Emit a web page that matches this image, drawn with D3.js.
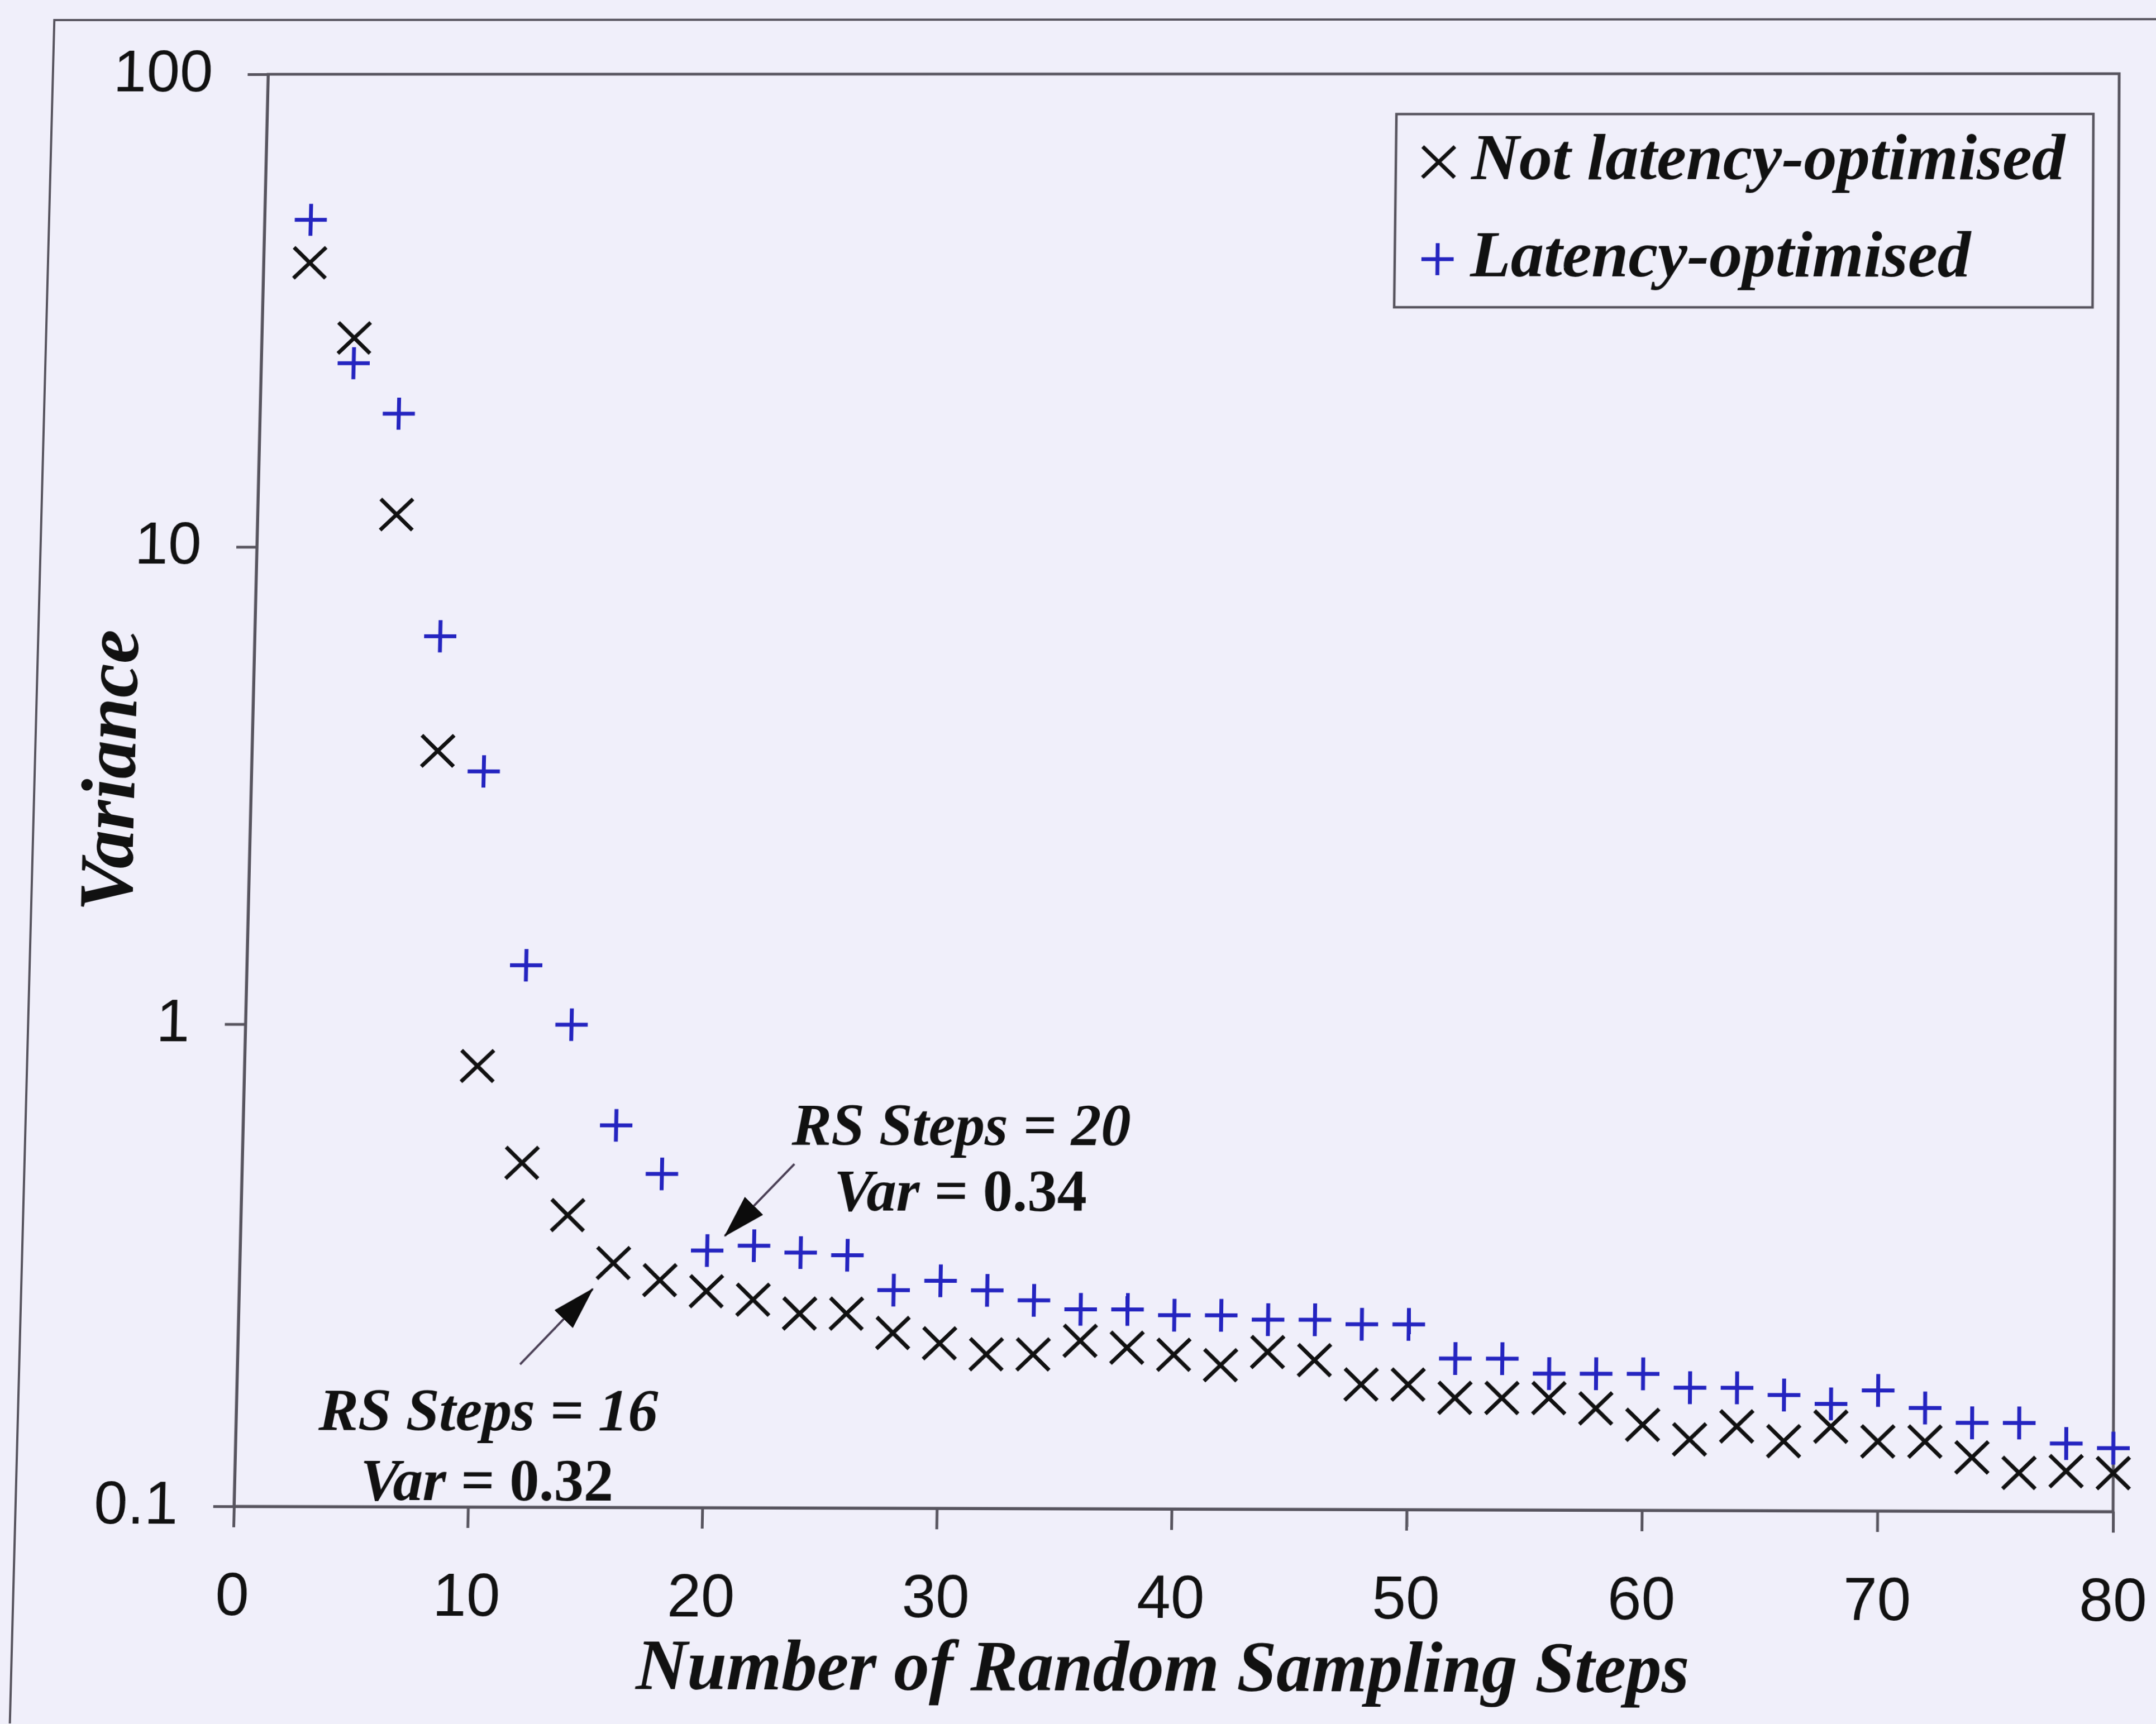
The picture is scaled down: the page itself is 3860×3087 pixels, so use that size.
<!DOCTYPE html>
<html>
<head>
<meta charset="utf-8">
<script src="https://cdn.jsdelivr.net/npm/d3@7"></script>
<style>
  html, body { margin: 0; padding: 0; background: #f0effa; overflow: hidden; }
  svg { position: absolute; left: 0; top: 0; transform-origin: 0 0; }
</style>
</head>
<body>
<script>
// ---- data -------------------------------------------------------------
const steps = [2, 4, 6, 8, 10, 12, 14, 16, 18, 20, 22, 24, 26, 28, 30, 32, 34, 36, 38, 40,
               42, 44, 46, 48, 50, 52, 54, 56, 58, 60, 62, 64, 66, 68, 70, 72, 74, 76, 78, 80];

const notOptimised = [39.8, 27.6, 11.7, 3.73, 0.82, 0.516, 0.402, 0.32, 0.295, 0.28,
                      0.269, 0.252, 0.252, 0.23, 0.219, 0.208, 0.208, 0.222, 0.215, 0.208,
                      0.198, 0.211, 0.203, 0.181, 0.181, 0.17, 0.17, 0.17, 0.162, 0.15,
                      0.14, 0.149, 0.139, 0.149, 0.139, 0.139, 0.129, 0.12, 0.121, 0.12];

const optimised = [49.1, 24.4, 19.1, 6.49, 3.38, 1.33, 1.0, 0.618, 0.49, 0.34,
                   0.348, 0.337, 0.333, 0.282, 0.295, 0.282, 0.269, 0.258, 0.258, 0.251,
                   0.251, 0.246, 0.246, 0.241, 0.241, 0.205, 0.205, 0.191, 0.191, 0.191,
                   0.179, 0.179, 0.173, 0.166, 0.177, 0.163, 0.152, 0.152, 0.138, 0.135];

const seriesNames = ["Not latency-optimised", "Latency-optimised"];
const xTicks = [0, 10, 20, 30, 40, 50, 60, 70, 80];
const yTicks = [0.1, 1, 10, 100];
const xTitle = "Number of Random Sampling Steps";
const yTitle = "Variance";

// callouts: series index, step, stated variance
const callouts = [
  { series: 0, step: 16, value: 0.32, line1: "RS Steps = 16", line2: ["Var", " = 0.32"] },
  { series: 1, step: 20, value: 0.34, line1: "RS Steps = 20", line2: ["Var", " = 0.34"] }
];

// ---- layout -----------------------------------------------------------
const W = 3860, H = 3087;
const L = 450, R = 3790, T = 133, B = 2703;
const AXIS = "#57545e";
const BLUE = "#2424c0";
const INK = "#111111";
const SERIF = "'Liberation Serif', 'Times New Roman', serif";
const SANS = "'Liberation Sans', Arial, sans-serif";

const svg = d3.select("body").append("svg")
  .attr("width", W).attr("height", H)
  .attr("viewBox", `0 0 ${W} ${H}`);

svg.append("rect")
  .attr("x", -300).attr("y", -300).attr("width", W + 600).attr("height", H + 600)
  .attr("fill", "#f0effa");

// outer frame of the figure
svg.append("rect")
  .attr("x", 60).attr("y", 34).attr("width", 4200).attr("height", 3300)
  .attr("fill", "none").attr("stroke", AXIS).attr("stroke-width", 4);

const x = d3.scaleLinear().domain([0, 80]).range([L, R]);
const y = d3.scaleLog().domain([0.1, 100]).range([B, T]);

// plot area border
svg.append("rect")
  .attr("x", L).attr("y", T).attr("width", R - L).attr("height", B - T)
  .attr("fill", "none").attr("stroke", AXIS).attr("stroke-width", 5);

// axes
const yAxis = svg.append("g")
  .attr("transform", `translate(${L},0)`)
  .call(d3.axisLeft(y).tickValues(yTicks).tickFormat(d3.format("~g"))
    .tickSize(37).tickSizeOuter(0).tickPadding(63));
yAxis.select(".domain").attr("stroke", AXIS).attr("stroke-width", 5);
yAxis.selectAll(".tick line").attr("stroke", AXIS).attr("stroke-width", 5);
yAxis.selectAll(".tick text")
  .attr("font-family", SANS).attr("font-size", 108).attr("fill", "#111")
  .attr("dy", "0.28em");

const xAxis = svg.append("g")
  .attr("transform", `translate(0,${B})`)
  .call(d3.axisBottom(x).tickValues(xTicks).tickSize(37).tickSizeOuter(0));
xAxis.select(".domain").attr("stroke", AXIS).attr("stroke-width", 5);
xAxis.selectAll(".tick line").attr("stroke", AXIS).attr("stroke-width", 5);
xAxis.selectAll(".tick text")
  .attr("font-family", SANS).attr("font-size", 108).attr("fill", "#111")
  .attr("y", 192).attr("dy", null);

// axis titles
svg.append("text")
  .attr("x", (L + R) / 2 - 13).attr("y", B + 320)
  .attr("text-anchor", "middle")
  .attr("font-family", SERIF).attr("font-weight", "bold").attr("font-style", "italic")
  .attr("font-size", 126).attr("fill", "#111")
  .text(xTitle);

svg.append("text")
  .attr("transform", `translate(240,1392) rotate(-90)`)
  .attr("text-anchor", "middle")
  .attr("font-family", SERIF).attr("font-weight", "bold").attr("font-style", "italic")
  .attr("font-size", 138).attr("fill", "#111")
  .text(yTitle);

// marker shapes
const timesPath = (sx, sy) => `M${-sx},${-sy}L${sx},${sy}M${-sx},${sy}L${sx},${-sy}`;
const plusPath = (s) => `M${-s},0H${s}M0,${-s}V${s}`;
const markers = [
  { d: timesPath(29, 28), color: INK },
  { d: plusPath(29), color: BLUE }
];

const seriesData = [notOptimised, optimised];

// draw the latency-optimised series first, then the other on top
[1, 0].forEach(si => {
  svg.append("g")
    .selectAll("path")
    .data(steps.map((s, i) => ({ s, v: seriesData[si][i] })))
    .join("path")
    .attr("transform", d => `translate(${x(d.s)},${y(d.v)})`)
    .attr("d", markers[si].d)
    .attr("fill", "none")
    .attr("stroke", markers[si].color)
    .attr("stroke-width", 7)
    .attr("stroke-linecap", "butt");
});

// legend
const legend = svg.append("g");
legend.append("rect")
  .attr("x", 2490).attr("y", 206).attr("width", 1254).attr("height", 350)
  .attr("fill", "none").attr("stroke", AXIS).attr("stroke-width", 4.5);
seriesNames.forEach((name, i) => {
  const cy = 293 + i * 176;
  legend.append("path")
    .attr("transform", `translate(2567,${cy})`)
    .attr("d", markers[i].d)
    .attr("fill", "none").attr("stroke", markers[i].color).attr("stroke-width", 7);
  legend.append("text")
    .attr("x", 2626).attr("y", cy + 31)
    .attr("font-family", SERIF).attr("font-weight", "bold").attr("font-style", "italic")
    .attr("font-size", 119).attr("fill", "#111")
    .text(name);
});

// callouts with arrows
const defs = svg.append("defs");
defs.append("marker")
  .attr("id", "head")
  .attr("markerUnits", "userSpaceOnUse")
  .attr("markerWidth", 76).attr("markerHeight", 46)
  .attr("refX", 74).attr("refY", 23)
  .attr("orient", "auto")
  .append("path")
  .attr("d", "M0,0L76,23L0,46Z")
  .attr("fill", "#0c0c0c");

const calloutLayout = [
  // text centre offset, line baselines offset, arrow tail and tip offsets from the point
  { tx: -218, ty1: 297, ty2: 421, ax0: -163, ay0: 180, ax1: -36, ay1: 46 },
  { tx: 450, ty1: -189, ty2: -72, ax0: 153, ay0: -154, ax1: 31, ay1: -26 }
];

callouts.forEach((c, i) => {
  const px = x(c.step), py = y(c.value);
  const lay = calloutLayout[i];
  svg.append("line")
    .attr("x1", px + lay.ax0).attr("y1", py + lay.ay0)
    .attr("x2", px + lay.ax1).attr("y2", py + lay.ay1)
    .attr("stroke", "#4a3f55").attr("stroke-width", 4)
    .attr("marker-end", "url(#head)");
  svg.append("text")
    .attr("x", px + lay.tx).attr("y", py + lay.ty1)
    .attr("text-anchor", "middle")
    .attr("font-family", SERIF).attr("font-weight", "bold").attr("font-style", "italic")
    .attr("font-size", 106).attr("fill", "#111")
    .text(c.line1);
  const t2 = svg.append("text")
    .attr("x", px + lay.tx).attr("y", py + lay.ty2)
    .attr("text-anchor", "middle")
    .attr("font-family", SERIF).attr("font-weight", "bold")
    .attr("font-size", 106).attr("fill", "#111");
  t2.append("tspan").attr("font-style", "italic").text(c.line2[0]);
  t2.append("tspan").text(c.line2[1]);
});

// ---- sheet warp --------------------------------------------------------
// The flat drawing is mapped onto a slightly skewed quadrilateral
// (projective transform from the four plot-area corners).
function solve(A, b) {
  const n = b.length;
  const M = A.map((r, i) => [...r, b[i]]);
  for (let c = 0; c < n; c++) {
    let p = c;
    for (let r = c + 1; r < n; r++) if (Math.abs(M[r][c]) > Math.abs(M[p][c])) p = r;
    [M[c], M[p]] = [M[p], M[c]];
    for (let r = 0; r < n; r++) {
      if (r === c) continue;
      const f = M[r][c] / M[c][c];
      for (let k = c; k <= n; k++) M[r][k] -= f * M[c][k];
    }
  }
  return M.map((r, i) => r[n] / r[i]);
}
function homography(src, dst) {
  const A = [], b = [];
  for (let i = 0; i < 4; i++) {
    const [sx, sy] = src[i], [u, v] = dst[i];
    A.push([sx, sy, 1, 0, 0, 0, -u * sx, -u * sy]); b.push(u);
    A.push([0, 0, 0, sx, sy, 1, -v * sx, -v * sy]); b.push(v);
  }
  return solve(A, b);
}
const hm = homography(
  [[L, T], [R, T], [R, B], [L, B]],
  [[480, 133], [3795, 132], [3785, 2708], [419, 2698]]
);
svg.style("transform",
  `matrix3d(${hm[0]},${hm[3]},0,${hm[6]},${hm[1]},${hm[4]},0,${hm[7]},0,0,1,0,${hm[2]},${hm[5]},0,1)`);
</script>
</body>
</html>
